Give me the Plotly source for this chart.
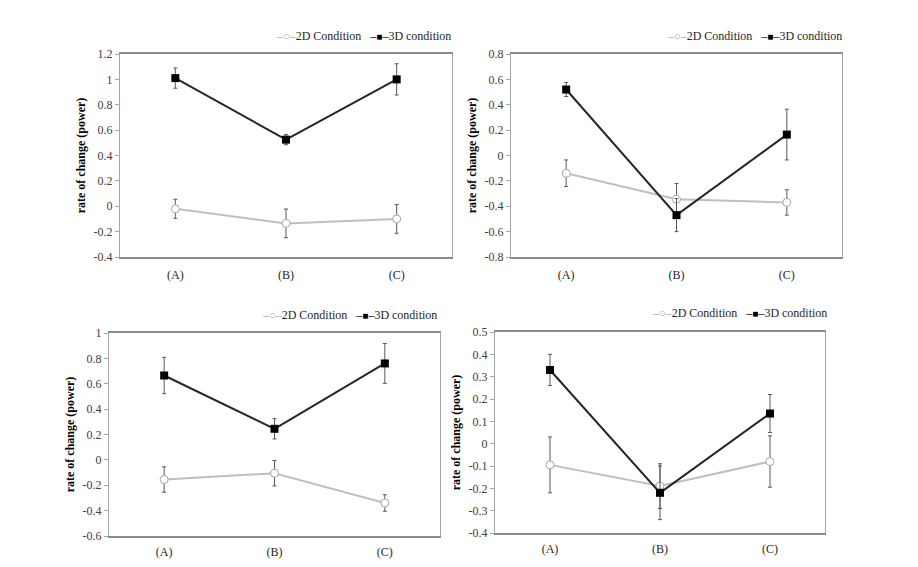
import plotly.graph_objects as go

categories = ["(A)", "(B)", "(C)"]
series_names = ["2D Condition", "3D condition"]

# Panel values (2D condition / 3D condition) and error magnitudes
p1_2d = [-0.02, -0.135, -0.10]
p1_2d_err = [0.075, 0.113, 0.113]
p1_3d = [1.01, 0.525, 1.00]
p1_3d_err = [0.08, 0.04, 0.123]

p2_2d = [-0.14, -0.345, -0.37]
p2_2d_err = [0.105, 0.125, 0.10]
p2_3d = [0.52, -0.47, 0.165]
p2_3d_err = [0.055, 0.13, 0.20]

p3_2d = [-0.155, -0.105, -0.34]
p3_2d_err = [0.10, 0.10, 0.065]
p3_3d = [0.665, 0.245, 0.76]
p3_3d_err = [0.143, 0.08, 0.157]

p4_2d = [-0.095, -0.19, -0.08]
p4_2d_err = [0.125, 0.10, 0.115]
p4_3d = [0.33, -0.22, 0.135]
p4_3d_err = [0.07, 0.12, 0.085]

# y tick values per panel
p1_ticks = [-0.4, -0.2, 0, 0.2, 0.4, 0.6, 0.8, 1, 1.2]
p2_ticks = [-0.8, -0.6, -0.4, -0.2, 0, 0.2, 0.4, 0.6, 0.8]
p3_ticks = [-0.6, -0.4, -0.2, 0, 0.2, 0.4, 0.6, 0.8, 1]
p4_ticks = [-0.4, -0.3, -0.2, -0.1, 0, 0.1, 0.2, 0.3, 0.4, 0.5]
tick_sets = [p1_ticks, p2_ticks, p3_ticks, p4_ticks]

panels = [
    (p1_2d, p1_2d_err, p1_3d, p1_3d_err),
    (p2_2d, p2_2d_err, p2_3d, p2_3d_err),
    (p3_2d, p3_2d_err, p3_3d, p3_3d_err),
    (p4_2d, p4_2d_err, p4_3d, p4_3d_err),
]

OFF = 8  # page body margin
W, H = 918 - 2 * OFF, 567 - 2 * OFF
# plot areas in screen pixels: left, right, top, bottom
boxes = [(120, 452, 54, 257), (511, 842, 54, 257), (109, 440, 333, 536), (495, 825, 332, 533)]
legend_pos = [(453, 36), (844, 36), (439, 315), (829, 313)]
label_standoff = [6, 6, 4, 4]

FONT = "Liberation Serif"


def fmt(v):
    return "%g" % v


def px_x(x):
    return (x - OFF) / W


def px_y(y):
    return 1 - (y - OFF) / H


fig = go.Figure()
layout = dict(
    width=W, height=H, margin=dict(l=0, r=0, t=0, b=0, autoexpand=False),
    paper_bgcolor="white", plot_bgcolor="white",
    font=dict(family=FONT, size=12, color="#404040"),
    showlegend=False,
)
annotations = []

legend_text = (
    "<span style='color:#a6a6a6'>–</span><span style='color:#a6a6a6;font-size:11px'>○</span>"
    "<span style='color:#a6a6a6'>–</span>" + series_names[0] + "\u00a0\u00a0\u00a0"
    "<span style='color:#000000'>–</span><span style='color:#000000;font-size:10px'>■</span>"
    "<span style='color:#000000'>–</span>" + series_names[1]
)

for i, (d2, e2, d3, e3) in enumerate(panels):
    n = "" if i == 0 else str(i + 1)
    fig.add_trace(go.Scatter(
        x=categories, y=d2, name=series_names[0], mode="lines+markers",
        xaxis="x" + n, yaxis="y" + n,
        line=dict(color="#bfbfbf", width=2),
        marker=dict(symbol="circle", size=8, color="white", line=dict(color="#a6a6a6", width=1)),
        error_y=dict(type="data", array=e2, color="#595959", thickness=1, width=2),
    ))
    fig.add_trace(go.Scatter(
        x=categories, y=d3, name=series_names[1], mode="lines+markers",
        xaxis="x" + n, yaxis="y" + n,
        line=dict(color="#262626", width=2),
        marker=dict(symbol="square", size=8, color="black"),
        error_y=dict(type="data", array=e3, color="#595959", thickness=1, width=2),
    ))
    l, r, t, b = boxes[i]
    tv = tick_sets[i]
    layout["xaxis" + n] = dict(
        domain=[px_x(l), px_x(r)], anchor="y" + n, type="category",
        categoryorder="array", categoryarray=categories, range=[-0.5, 2.5],
        showline=True, linecolor="#8c8c8c", linewidth=1.5, mirror=True,
        showgrid=False, zeroline=False, ticks="", ticklabelstandoff=label_standoff[i],
        tickfont=dict(family=FONT, size=12, color="#262626"),
        automargin=False, fixedrange=True,
    )
    layout["yaxis" + n] = dict(
        domain=[px_y(b), px_y(t)], anchor="x" + n,
        range=[tv[0], tv[-1]], tickmode="array", tickvals=tv, ticktext=[fmt(v) for v in tv],
        showline=True, linecolor="#a6a6a6", linewidth=1, mirror=True,
        showgrid=False, zeroline=False, ticks="outside", ticklen=4, tickcolor="#a6a6a6",
        tickfont=dict(family=FONT, size=12, color="#404040"),
        title=dict(text="<b>rate of change (power)</b>", font=dict(family=FONT, size=12, color="black"), standoff=5),
        automargin=False, fixedrange=True,
    )
    lx, ly = legend_pos[i]
    annotations.append(dict(
        text=legend_text, xref="paper", yref="paper", x=px_x(lx), y=px_y(ly),
        xanchor="right", yanchor="middle", showarrow=False,
        font=dict(family=FONT, size=12, color="#262626"),
    ))

layout["annotations"] = annotations
fig.update_layout(**layout)
fig.write_html("out.html")
